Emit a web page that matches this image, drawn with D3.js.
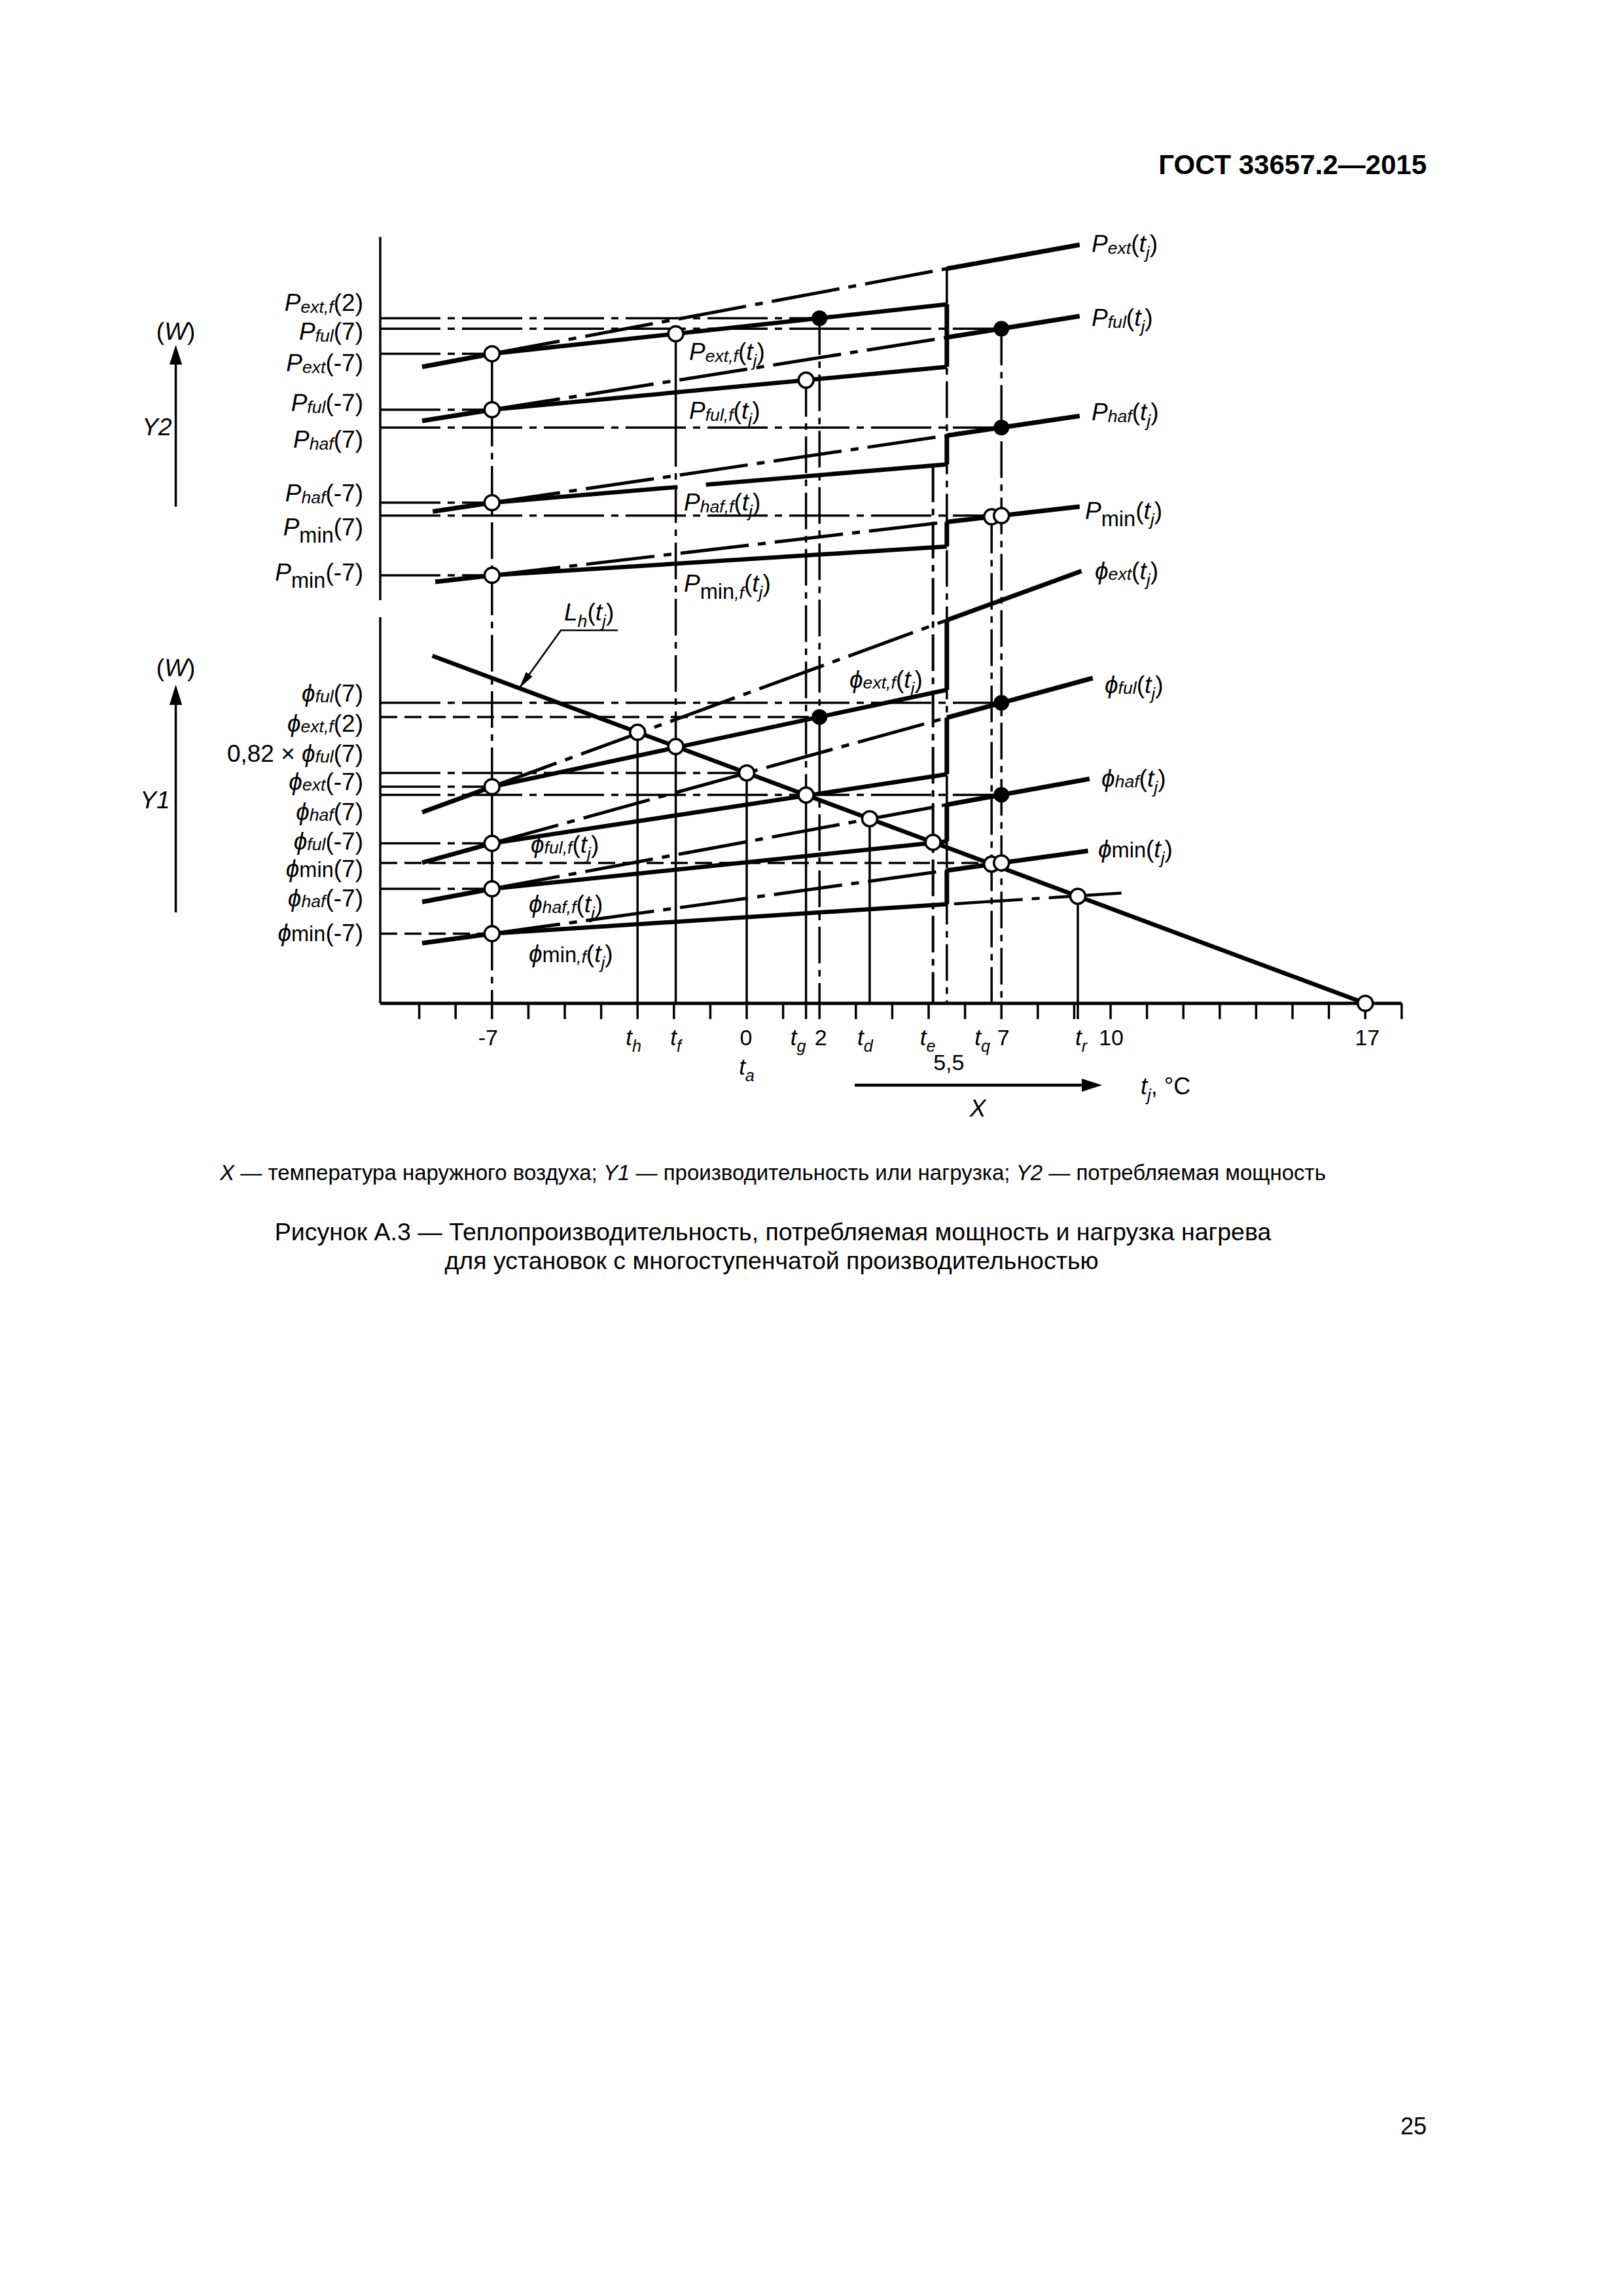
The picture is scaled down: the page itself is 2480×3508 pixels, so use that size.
<!DOCTYPE html>
<html lang="ru">
<head>
<meta charset="utf-8">
<title>Рисунок А.3</title>
<script src="https://cdn.jsdelivr.net/npm/d3@7"></script>
<style>
  html, body { margin:0; padding:0; background:#fff; }
  svg { display:block; }
</style>
</head>
<body>
<script>
// ================= DATA =================
// X: outdoor temperature t_j, °C
const xTickValues = [-9,-8,-7,-6,-5,-4,-3,-2,-1,0,1,2,3,4,5,6,7,8,9,10,11,12,13,14,15,16,17,18];
const xTickLabels = [[-7,"-7"],[0,"0"],[2,"2"],[7,"7"],[10,"10"],[17,"17"]];
const tSpecial = {h:-3.0, f:-1.95, a:0, g:1.63, d:3.38, e:5.12, q:6.73, r:9.1};
const tStep = 5.5;
const tDesign = -7;

// Y2 – power input, relative units : [t, value]
const P_ext   = [[-8.92,71.3],[-7,75.3],[5.5,101.3],[9.15,108.6]];
const P_ext_f = [[-7,75.3],[5.5,90.4]];
const P_ful   = [[-8.92,54.8],[-7,58.2],[5.5,80.3],[9.15,86.8]];
const P_ful_f = [[-7,58.2],[5.5,71.3]];
const P_haf   = [[-8.63,27.1],[-7,29.8],[5.5,50.3],[9.15,56.3]];
const P_haf_f = [[-7,29.8],[5.5,41.5]];
const P_min   = [[-8.56,5.6],[-7,7.6],[5.5,23.9],[9.15,28.6]];
const P_min_f = [[-7,7.6],[5.5,16.4]];

// Y1 – capacity or load, relative units : [t, value]
const phi_ext   = [[-8.92,58.4],[-7,66.2],[5.5,117.1],[9.2,132.1]];
const phi_ext_f = [[-7,66.2],[5.5,95.8]];
const phi_ful   = [[-8.92,43.0],[-7,48.9],[5.5,87.3],[9.51,99.4]];
const phi_ful_f = [[-7,48.9],[5.5,70.0]];
const phi_haf   = [[-8.92,31.0],[-7,35.0],[5.5,60.7],[9.42,68.6]];
const phi_haf_f = [[-7,35.0],[5.5,49.5]];
const phi_min   = [[-8.92,18.4],[-7,21.3],[5.5,40.6],[9.38,46.6]];
const phi_min_f = [[-7,21.3],[5.5,30.3]];
const phi_min_f_ext = [[5.7,30.4],[10.3,33.7]];
const L_h = [[-8.64,106.2],[17,0]];

// gap in the drawn P_haf,f line
const P_haf_f_gap = [-1.9,-1.12];

// reference (horizontal) lines: curve, value taken at, line runs to, kind
const refsY2 = [
  ["P_ext_f",2,2,"dd"],["P_ful",7,7,"dd"],["P_ext",-7,-7,"dd"],["P_ful",-7,-7,"dd"],
  ["P_haf",7,7,"dd"],["P_haf",-7,-7,"dd"],["P_min",7,"q","dd"],["P_min",-7,-7,"dd"]
];
const refsY1 = [
  ["phi_ful",7,7,"dd"],["phi_ext_f",2,2,"da"],["L_h","a","a","dd"],["phi_ext",-7,-7,"dd"],
  ["phi_haf",7,7,"dd"],["phi_ful",-7,-7,"dd"],["phi_min",7,"q","da"],["phi_haf",-7,-7,"dd"],
  ["phi_min",-7,-7,"da"]
];

// projection (vertical) lines: t, from, to, kind
const verticals = [
  [-7,"P_ext","P_ful","s"],[-7,"P_ful","phi_ext","dd"],[-7,"phi_ext","phi_min","s"],[-7,"phi_min","axis","dd"],
  ["h","L_h","axis","s"],
  ["f","P_ext_f",["Y2",52],"s"],["f",["Y2",52],"L_h","dd"],["f","L_h","axis","s"],
  ["a","L_h","axis","s"],
  ["g","P_ful_f","L_h","dd"],["g","L_h","axis","s"],
  [2,"P_ext_f","phi_ext_f","dd"],[2,"phi_ext_f",["Y1",75],"s"],[2,["Y1",75],"axis","dd"],
  ["d","L_h","axis","s"],
  ["e","P_haf_f","axis","dd"],
  [5.5,"P_ext","axis","dd"],
  ["q","P_min","axis","dd"],
  [7,"P_ful","axis","dd"],
  ["r","L_h","axis","s"]
];
// step jumps at t = 5,5
const steps = [["P_ext_f","P_ful_f"],["P_haf","P_haf_f"],["P_min","P_min_f"],
  ["phi_ext","phi_ext_f"],["phi_ful","phi_ful_f"],["phi_haf","phi_haf_f"],["phi_min","phi_min_f"]];

const openPoints = [
  ["P_ext",-7],["P_ful",-7],["P_haf",-7],["P_min",-7],["P_ext_f","f"],["P_ful_f","g"],["P_min","q"],["P_min",7],
  ["phi_ext",-7],["phi_ful",-7],["phi_haf",-7],["phi_min",-7],
  ["L_h","h"],["L_h","f"],["L_h","a"],["L_h","g"],["L_h","d"],["L_h","e"],["L_h","q"],["phi_min",7],["L_h","r"],["L_h",17]
];
const filledPoints = [["P_ext_f",2],["P_ful",7],["P_haf",7],["phi_ext_f",2],["phi_ful",7],["phi_haf",7]];

// ================= LAYOUT =================
const W = 2480, H = 3508;
const FONT = "'Liberation Sans', Arial, 'DejaVu Sans', sans-serif";
const PHI = "\u03D5";
const AXX = 581;
const x  = d3.scaleLinear().domain([0, 17]).range([1141, 1141 + 55.6*17]);
const y2 = d3.scaleLinear().domain([0, 112]).range([917, 357]);
const y1 = d3.scaleLinear().domain([0, 118]).range([1533, 943]);

const curves = {
  P_ext:{pts:P_ext,s:y2}, P_ext_f:{pts:P_ext_f,s:y2}, P_ful:{pts:P_ful,s:y2}, P_ful_f:{pts:P_ful_f,s:y2},
  P_haf:{pts:P_haf,s:y2}, P_haf_f:{pts:P_haf_f,s:y2}, P_min:{pts:P_min,s:y2}, P_min_f:{pts:P_min_f,s:y2},
  phi_ext:{pts:phi_ext,s:y1}, phi_ext_f:{pts:phi_ext_f,s:y1}, phi_ful:{pts:phi_ful,s:y1}, phi_ful_f:{pts:phi_ful_f,s:y1},
  phi_haf:{pts:phi_haf,s:y1}, phi_haf_f:{pts:phi_haf_f,s:y1}, phi_min:{pts:phi_min,s:y1}, phi_min_f:{pts:phi_min_f,s:y1},
  phi_min_f_ext:{pts:phi_min_f_ext,s:y1}, L_h:{pts:L_h,s:y1}
};

const T = t => (typeof t === "string") ? tSpecial[t] : t;
function val(pts, t) {
  let i = 0;
  while (i < pts.length - 2 && t > pts[i+1][0]) i++;
  const [t0,v0] = pts[i], [t1,v1] = pts[i+1];
  return v0 + (v1 - v0) * (t - t0) / (t1 - t0);
}
function part(pts, a, b) {
  const out = [[a, val(pts, a)]];
  pts.forEach(p => { if (p[0] > a && p[0] < b) out.push(p); });
  out.push([b, val(pts, b)]);
  return out;
}
function yAt(ref, t) {
  if (ref === "axis") return y1(0);
  if (Array.isArray(ref)) return (ref[0] === "Y2" ? y2 : y1)(ref[1]);
  const c = curves[ref];
  return c.s(val(c.pts, T(t)));
}

const DASH = {
  curve: "105,14,12,14",
  ref:   "92,11,11,11",
  vert:  "56,10,10,10",
  dashed:"26,11"
};

const svg = d3.select("body").append("svg").attr("width", W).attr("height", H).attr("viewBox", `0 0 ${W} ${H}`);
svg.append("rect").attr("width", W).attr("height", H).attr("fill", "#fff");
const g = svg.append("g");

function path(pts, scale, width, dash) {
  g.append("path")
    .attr("d", d3.line().x(d => x(d[0])).y(d => scale(d[1]))(pts))
    .attr("fill", "none").attr("stroke", "#000")
    .attr("stroke-width", width)
    .attr("stroke-dasharray", dash || null);
}
function lineXY(x1, y1_, x2, y2_, width, dash) {
  g.append("line").attr("x1", x1).attr("y1", y1_).attr("x2", x2).attr("y2", y2_)
    .attr("stroke", "#000").attr("stroke-width", width).attr("stroke-dasharray", dash || null);
}

// ---------- axes ----------
lineXY(AXX, 362, AXX, y2(0), 3.5);
lineXY(AXX, y1.range()[1], AXX, y1(0), 3.5);
lineXY(AXX, y1(0), x(18), y1(0), 5);
xTickValues.concat([tSpecial.g, tSpecial.r]).forEach(t => lineXY(x(t), y1(0), x(t), y1(0) + 24, 3.5));

// ---------- reference lines ----------
refsY2.concat(refsY1).forEach(([c, at, to, k]) => {
  const yy = yAt(c, at);
  lineXY(AXX, yy, x(T(to)), yy, 3.5, k === "dd" ? DASH.ref : DASH.dashed);
});

// ---------- vertical projection lines ----------
verticals.forEach(([t, a, b, k]) => {
  const tt = T(t);
  lineXY(x(tt), yAt(a, tt), x(tt), yAt(b, tt), t === "e" ? 4 : 3.5, k === "dd" ? DASH.vert : null);
});

// ---------- curves ----------
["P_ext","P_ful","P_haf","P_min","phi_ext","phi_ful","phi_haf","phi_min"].forEach(n => {
  const c = curves[n], p = c.pts;
  path(part(p, p[0][0], tDesign), c.s, 7);
  path(part(p, tDesign, tStep), c.s, 5, DASH.curve);
  path(part(p, tStep, p[p.length-1][0]), c.s, 7);
});
["P_ext_f","P_ful_f","P_min_f","phi_ext_f","phi_ful_f","phi_haf_f","phi_min_f"].forEach(n => {
  const c = curves[n];
  path(c.pts, c.s, 6.5);
});
path(part(P_haf_f, tDesign, P_haf_f_gap[0]), y2, 6.5);
path(part(P_haf_f, P_haf_f_gap[1], tStep), y2, 6.5);
path(part(phi_min_f_ext, phi_min_f_ext[0][0], tSpecial.r), y1, 4.5, DASH.curve);
path(part(phi_min_f_ext, tSpecial.r, phi_min_f_ext[1][0]), y1, 4.5);
path(L_h, y1, 6.5);

// steps at 5,5
steps.forEach(([a, b]) => lineXY(x(tStep), yAt(a, tStep), x(tStep), yAt(b, tStep), 7));

// ---------- L_h leader ----------
{
  const tipT = -6.25;
  const tx = x(tipT), ty = y1(val(L_h, tipT));
  const kx = 857, ky = 963;
  g.append("polyline").attr("points", `944,${ky} ${kx},${ky} ${tx},${ty}`)
    .attr("fill", "none").attr("stroke", "#000").attr("stroke-width", 2.6);
  const dx = tx - kx, dy = ty - ky, L = Math.hypot(dx, dy), ux = dx/L, uy = dy/L;
  const bx = tx - ux*26, by = ty - uy*26;
  g.append("polygon").attr("points",
    `${tx},${ty} ${bx - uy*6},${by + ux*6} ${bx + uy*6},${by - ux*6}`).attr("fill", "#000");
}

// ---------- points ----------
openPoints.forEach(([c, t]) => {
  g.append("circle").attr("cx", x(T(t))).attr("cy", yAt(c, t)).attr("r", 11.5)
    .attr("fill", "#fff").attr("stroke", "#000").attr("stroke-width", 3.5);
});
filledPoints.forEach(([c, t]) => {
  g.append("circle").attr("cx", x(T(t))).attr("cy", yAt(c, t)).attr("r", 12).attr("fill", "#000");
});

// ---------- text helpers ----------
const KINDS = {
  i:{fs:1, dy:0, it:true}, r:{fs:1, dy:0, it:false},
  s:{fs:0.72, dy:0.1, it:true},           // P subscript
  p:{fs:0.72, dy:0.05, it:true},          // phi subscript
  m:{fs:0.88, dy:0.3, it:false},          // P "min"
  mi:{fs:0.72, dy:0.3, it:true},
  n:{fs:0.88, dy:0, it:false},            // phi "min"
  ni:{fs:0.72, dy:0.05, it:true},
  j:{fs:0.72, dy:0.28, it:true},          // t subscript
  b:{fs:1, dy:0, it:false, bold:true}
};
function rich(xx, cy, parts, anchor, size) {
  size = size || 37;
  const t = g.append("text").attr("x", xx).attr("y", cy + 0.34*size)
    .attr("text-anchor", anchor || "start").attr("font-family", FONT)
    .attr("font-size", size).attr("fill", "#000");
  let shift = 0;
  parts.forEach(([s, k]) => {
    const sp = KINDS[k];
    const d = sp.dy*size - shift; shift = sp.dy*size;
    t.append("tspan").attr("dy", d).attr("font-size", sp.fs*size)
      .attr("font-style", sp.it ? "italic" : "normal")
      .attr("font-weight", sp.bold ? "bold" : "normal").text(s);
  });
  return t;
}
const TJ = [["(","r"],["t","i"],["j","j"],[")","r"]];

// ---------- left labels ----------
[
  [462, [["P","i"],["ext,f","s"],["(2)","r"]]],
  [506, [["P","i"],["ful","s"],["(7)","r"]]],
  [554, [["P","i"],["ext","s"],["(-7)","r"]]],
  [615, [["P","i"],["ful","s"],["(-7)","r"]]],
  [671, [["P","i"],["haf","s"],["(7)","r"]]],
  [753, [["P","i"],["haf","s"],["(-7)","r"]]],
  [805, [["P","i"],["min","m"],["(7)","r"]]],
  [874, [["P","i"],["min","m"],["(-7)","r"]]],
  [1059, [[PHI,"i"],["ful","p"],["(7)","r"]]],
  [1105, [[PHI,"i"],["ext,f","p"],["(2)","r"]]],
  [1151, [["0,82 \u00D7 ","r"],[PHI,"i"],["ful","p"],["(7)","r"]]],
  [1194, [[PHI,"i"],["ext","p"],["(-7)","r"]]],
  [1240, [[PHI,"i"],["haf","p"],["(7)","r"]]],
  [1285, [[PHI,"i"],["ful","p"],["(-7)","r"]]],
  [1327, [[PHI,"i"],["min","n"],["(7)","r"]]],
  [1372, [[PHI,"i"],["haf","p"],["(-7)","r"]]],
  [1425, [[PHI,"i"],["min","n"],["(-7)","r"]]]
].forEach(([cy, p]) => rich(555, cy, p, "end"));

// ---------- right-end labels ----------
[
  [1668, 372, [["P","i"],["ext","s"]]], [1668, 485, [["P","i"],["ful","s"]]],
  [1668, 629, [["P","i"],["haf","s"]]], [1658, 780, [["P","i"],["min","m"]]],
  [1673, 872, [[PHI,"i"],["ext","p"]]], [1688, 1046, [[PHI,"i"],["ful","p"]]],
  [1683, 1189, [[PHI,"i"],["haf","p"]]], [1678, 1297, [[PHI,"i"],["min","n"]]]
].forEach(([xx, cy, p]) => rich(xx, cy, p.concat(TJ)));

// ---------- in-plot labels ----------
[
  [1053, 537, [["P","i"],["ext,f","s"]]], [1053, 627, [["P","i"],["ful,f","s"]]],
  [1045, 767, [["P","i"],["haf,f","s"]]], [1045, 891, [["P","i"],["min","m"],[",f","mi"]]],
  [1298, 1038, [[PHI,"i"],["ext,f","p"]]], [811, 1290, [[PHI,"i"],["ful,f","p"]]],
  [808, 1381, [[PHI,"i"],["haf,f","p"]]], [808, 1457, [[PHI,"i"],["min","n"],[",f","ni"]]],
  [862, 935, [["L","i"],["h","j"]]]
].forEach(([xx, cy, p]) => rich(xx, cy, p.concat(TJ)));

// ---------- Y axis titles ----------
rich(268.6, 506, [["(","r"],["W","i"],[")","r"]], "middle");
rich(268.6, 1020, [["(","r"],["W","i"],[")","r"]], "middle");
rich(240, 652, [["Y2","i"]], "middle");
rich(237, 1222, [["Y1","i"]], "middle");
lineXY(268.6, 774, 268.6, 552, 3.5);
g.append("polygon").attr("points", "268.6,527 259,557 278.2,557").attr("fill", "#000");
lineXY(268.6, 1394, 268.6, 1072, 3.5);
g.append("polygon").attr("points", "268.6,1046 259,1077 278.2,1077").attr("fill", "#000");

// ---------- X tick labels ----------
const xOff = {"-7":-6, "0":-1, "2":2, "7":3, "10":1, "17":3};
xTickLabels.forEach(([t, s]) => rich(x(t) + xOff[s], 1585, [[s,"r"]], "middle", 34));
[["h",-6],["f",0],["g",-12],["d",-7],["e",-8],["q",-14],["r",5]].forEach(([k, o]) =>
  rich(x(tSpecial[k]) + o, 1585, [["t","i"],[k,"j"]], "middle", 35));
rich(x(tSpecial.a), 1630, [["t","i"],["a","j"]], "middle", 35);
rich(x(tStep) + 3, 1623, [["5,5","r"]], "middle", 34);

// X arrow + title
lineXY(1306, 1658, 1658, 1658, 4.5);
g.append("polygon").attr("points", "1684,1658 1653,1648 1653,1668").attr("fill", "#000");
rich(1743, 1660, [["t","i"],["j","j"],[", \u00B0C","r"]], "start", 36);
rich(1494, 1693, [["X","i"]], "middle", 37);

// ---------- header, caption, page number ----------
rich(2180, 252, [["ГОСТ 33657.2—2015","b"]], "end", 42);
rich(1181, 1792, [["X","i"],[" — температура наружного воздуха; ","r"],["Y1","i"],
  [" — производительность или нагрузка; ","r"],["Y2","i"],[" — потребляемая мощность","r"]], "middle", 33);
rich(1181, 1882, [["Рисунок А.3 — Теплопроизводительность, потребляемая мощность и нагрузка нагрева","r"]], "middle", 37.5);
rich(1179, 1926, [["для установок с многоступенчатой производительностью","r"]], "middle", 37.5);
rich(2180, 3249, [["25","r"]], "end", 36);
</script>
</body>
</html>
